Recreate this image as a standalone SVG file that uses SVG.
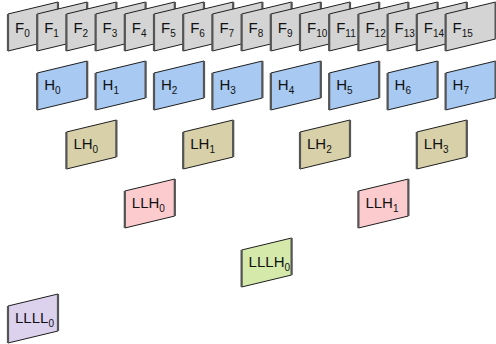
<svg xmlns="http://www.w3.org/2000/svg" width="496" height="344" viewBox="0 0 496 344">
  <style>
    text { font-family: "Liberation Sans", Arial, sans-serif; font-size: 15px; fill: #111; }
    .sub { font-size: 10px; }
    .face { stroke: #1e1e1e; stroke-width: 1; stroke-linejoin: miter; }
    .rim { fill: none; stroke: #555; stroke-width: 2.2; }
    .f { fill: #d4d4d4; }
    .h { fill: #a7c9f2; }
    .lh { fill: #d7d0a9; }
    .llh { fill: #fccbce; }
    .lllh { fill: #d5e9ab; }
    .llll { fill: #ddd2ee; }
  </style>
  <defs>
    <!-- slanted card: left edge 37 tall, top rises 12 over width 50 -->
    <g id="card">
      <path class="face" d="M0,0 L50,-12 L50,25 L0,37 Z"/>
      <path class="rim" d="M0,0 V37 M50,-12 V25"/>
    </g>
  </defs>

  <!-- frames F0..F15, each overlapping the previous -->
  <g id="F0" class="f" transform="translate(8,14)"><use href="#card"/><text x="7" y="19">F<tspan class="sub" dy="4">0</tspan></text></g>
  <g id="F1" class="f" transform="translate(37.2,14)"><use href="#card"/><text x="7" y="19">F<tspan class="sub" dy="4">1</tspan></text></g>
  <g id="F2" class="f" transform="translate(66.4,14)"><use href="#card"/><text x="7" y="19">F<tspan class="sub" dy="4">2</tspan></text></g>
  <g id="F3" class="f" transform="translate(95.6,14)"><use href="#card"/><text x="7" y="19">F<tspan class="sub" dy="4">3</tspan></text></g>
  <g id="F4" class="f" transform="translate(124.8,14)"><use href="#card"/><text x="7" y="19">F<tspan class="sub" dy="4">4</tspan></text></g>
  <g id="F5" class="f" transform="translate(154,14)"><use href="#card"/><text x="7" y="19">F<tspan class="sub" dy="4">5</tspan></text></g>
  <g id="F6" class="f" transform="translate(183.2,14)"><use href="#card"/><text x="7" y="19">F<tspan class="sub" dy="4">6</tspan></text></g>
  <g id="F7" class="f" transform="translate(212.4,14)"><use href="#card"/><text x="7" y="19">F<tspan class="sub" dy="4">7</tspan></text></g>
  <g id="F8" class="f" transform="translate(241.6,14)"><use href="#card"/><text x="7" y="19">F<tspan class="sub" dy="4">8</tspan></text></g>
  <g id="F9" class="f" transform="translate(270.8,14)"><use href="#card"/><text x="7" y="19">F<tspan class="sub" dy="4">9</tspan></text></g>
  <g id="F10" class="f" transform="translate(300,14)"><use href="#card"/><text x="7" y="19">F<tspan class="sub" dy="4">10</tspan></text></g>
  <g id="F11" class="f" transform="translate(329.2,14)"><use href="#card"/><text x="7" y="19">F<tspan class="sub" dy="4">11</tspan></text></g>
  <g id="F12" class="f" transform="translate(358.4,14)"><use href="#card"/><text x="7" y="19">F<tspan class="sub" dy="4">12</tspan></text></g>
  <g id="F13" class="f" transform="translate(387.6,14)"><use href="#card"/><text x="7" y="19">F<tspan class="sub" dy="4">13</tspan></text></g>
  <g id="F14" class="f" transform="translate(416.8,14)"><use href="#card"/><text x="7" y="19">F<tspan class="sub" dy="4">14</tspan></text></g>
  <g id="F15" class="f" transform="translate(445.6,14)"><use href="#card"/><text x="7" y="19">F<tspan class="sub" dy="4">15</tspan></text></g>

  <!-- H level -->
  <g id="H0" class="h" transform="translate(37.2,73)"><use href="#card"/><text x="7" y="17">H<tspan class="sub" dy="4">0</tspan></text></g>
  <g id="H1" class="h" transform="translate(95.6,73)"><use href="#card"/><text x="7" y="17">H<tspan class="sub" dy="4">1</tspan></text></g>
  <g id="H2" class="h" transform="translate(154,73)"><use href="#card"/><text x="7" y="17">H<tspan class="sub" dy="4">2</tspan></text></g>
  <g id="H3" class="h" transform="translate(212.4,73)"><use href="#card"/><text x="7" y="17">H<tspan class="sub" dy="4">3</tspan></text></g>
  <g id="H4" class="h" transform="translate(270.8,73)"><use href="#card"/><text x="7" y="17">H<tspan class="sub" dy="4">4</tspan></text></g>
  <g id="H5" class="h" transform="translate(329.2,73)"><use href="#card"/><text x="7" y="17">H<tspan class="sub" dy="4">5</tspan></text></g>
  <g id="H6" class="h" transform="translate(387.6,73)"><use href="#card"/><text x="7" y="17">H<tspan class="sub" dy="4">6</tspan></text></g>
  <g id="H7" class="h" transform="translate(445.6,73)"><use href="#card"/><text x="7" y="17">H<tspan class="sub" dy="4">7</tspan></text></g>

  <!-- LH level -->
  <g id="LH0" class="lh" transform="translate(66.4,132)"><use href="#card"/><text x="7" y="17">LH<tspan class="sub" dy="4">0</tspan></text></g>
  <g id="LH1" class="lh" transform="translate(183.2,132)"><use href="#card"/><text x="7" y="17">LH<tspan class="sub" dy="4">1</tspan></text></g>
  <g id="LH2" class="lh" transform="translate(300,132)"><use href="#card"/><text x="7" y="17">LH<tspan class="sub" dy="4">2</tspan></text></g>
  <g id="LH3" class="lh" transform="translate(416.8,132)"><use href="#card"/><text x="7" y="17">LH<tspan class="sub" dy="4">3</tspan></text></g>

  <!-- LLH level -->
  <g id="LLH0" class="llh" transform="translate(124.8,191)"><use href="#card"/><text x="7" y="17">LLH<tspan class="sub" dy="4">0</tspan></text></g>
  <g id="LLH1" class="llh" transform="translate(358.4,191)"><use href="#card"/><text x="7" y="17">LLH<tspan class="sub" dy="4">1</tspan></text></g>

  <!-- LLLH and LLLL -->
  <g id="LLLH0" class="lllh" transform="translate(241.6,250)"><use href="#card"/><text x="7" y="17">LLLH<tspan class="sub" dy="4">0</tspan></text></g>
  <g id="LLLL0" class="llll" transform="translate(8,306)"><use href="#card"/><text x="7" y="17">LLLL<tspan class="sub" dy="4">0</tspan></text></g>
</svg>
